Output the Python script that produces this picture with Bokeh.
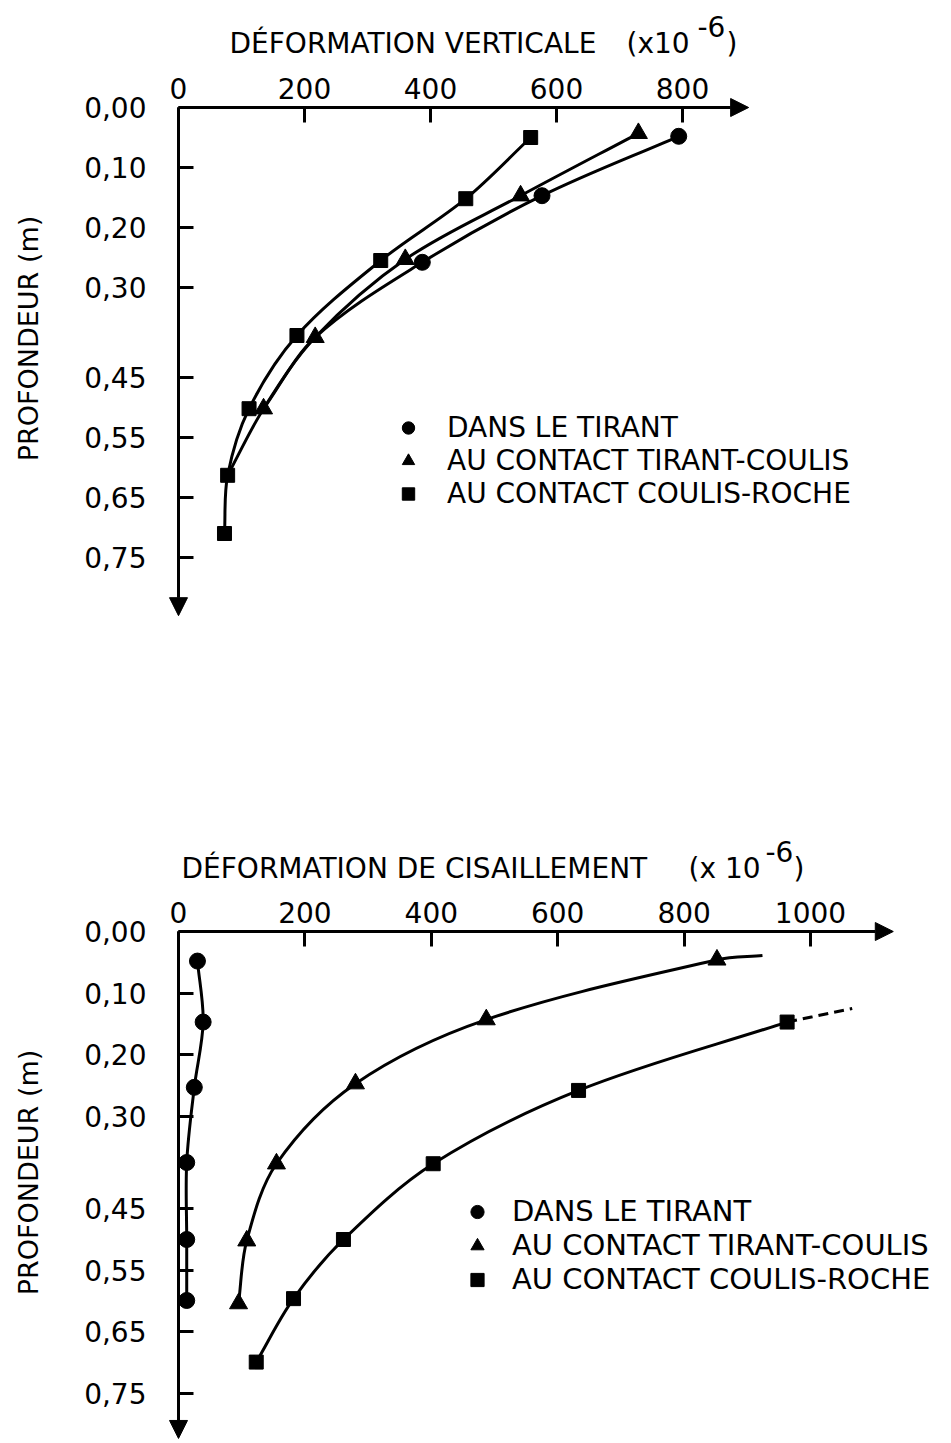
import math
from bokeh.plotting import figure
from bokeh.layouts import column
from bokeh.models import (Range1d, FixedTicker, CustomJSTickFormatter, Arrow, NormalHead,
                          Label, Legend, LegendItem, ColumnDataSource)
from bokeh.embed import file_html
from bokeh.resources import INLINE

FONT = "DejaVu Sans"

# ---------------- data ----------------
depth_ticks = [0.0, 0.10, 0.20, 0.30, 0.45, 0.55, 0.65, 0.75]

# Top chart: vertical strain (x1e-6) vs depth (m)
top_x_ticks = [0, 200, 400, 600, 800]
top_circle_x = [794, 577, 387]
top_circle_y = [0.048, 0.147, 0.258]
top_tri_x = [730, 543, 360, 217, 135]
top_tri_y = [0.043, 0.147, 0.253, 0.383, 0.502]
top_sq_x = [559, 456, 321, 188, 112, 78, 73]
top_sq_y = [0.050, 0.152, 0.255, 0.380, 0.502, 0.613, 0.710]

# Bottom chart: shear strain (x1e-6) vs depth (m)
bot_x_ticks = [0, 200, 400, 600, 800, 1000]
bot_circle_x = [30, 39, 25, 13, 13, 13]
bot_circle_y = [0.048, 0.147, 0.253, 0.375, 0.500, 0.599]
bot_tri_x = [852, 487, 280, 155, 108, 95]
bot_tri_y = [0.046, 0.143, 0.247, 0.377, 0.502, 0.604]
bot_sq_x = [963, 633, 403, 261, 182, 123]
bot_sq_y = [0.147, 0.258, 0.377, 0.500, 0.596, 0.699]
bot_tri_start_x, bot_tri_start_y = [924], [0.039]     # curve continues beyond first triangle
bot_sq_ext_x, bot_sq_ext_y = [1066], [0.125]          # dashed extrapolation

labels = ["DANS LE TIRANT", "AU CONTACT TIRANT-COULIS", "AU CONTACT COULIS-ROCHE"]

W = 950


def smooth(xs, ys, kx, ky):
    """Smooth curve through the points (chord-length Hermite), as cubic Bezier segments."""
    sx = [x * kx for x in xs]
    sy = [y * ky for y in ys]
    n = len(sx)
    d = [math.hypot(sx[i + 1] - sx[i], sy[i + 1] - sy[i]) for i in range(n - 1)]
    mx, my = [], []
    for k in range(n):
        if k == 0:
            mx.append((sx[1] - sx[0]) / d[0]); my.append((sy[1] - sy[0]) / d[0])
        elif k == n - 1:
            mx.append((sx[-1] - sx[-2]) / d[-1]); my.append((sy[-1] - sy[-2]) / d[-1])
        else:
            s = d[k - 1] + d[k]
            mx.append((sx[k + 1] - sx[k - 1]) / s); my.append((sy[k + 1] - sy[k - 1]) / s)
    out = dict(x0=[], y0=[], x1=[], y1=[], cx0=[], cy0=[], cx1=[], cy1=[])
    for i in range(n - 1):
        out["x0"].append(xs[i]); out["y0"].append(ys[i])
        out["x1"].append(xs[i + 1]); out["y1"].append(ys[i + 1])
        out["cx0"].append((sx[i] + mx[i] * d[i] / 3) / kx)
        out["cy0"].append((sy[i] + my[i] * d[i] / 3) / ky)
        out["cx1"].append((sx[i + 1] - mx[i + 1] * d[i] / 3) / kx)
        out["cy1"].append((sy[i + 1] - my[i + 1] * d[i] / 3) / ky)
    return ColumnDataSource(out)


def make_fig(height, xr, yr, xticks, xtip, ytip):
    p = figure(width=W, height=height, x_axis_location="above",
               x_range=Range1d(*xr), y_range=Range1d(*yr),
               output_backend="svg", toolbar_location=None,
               min_border=0, min_border_left=0, min_border_right=0,
               min_border_top=0, min_border_bottom=0)
    p.outline_line_color = None
    p.grid.visible = False
    p.background_fill_color = "white"
    p.border_fill_color = "white"
    for ax in (p.xaxis[0], p.yaxis[0]):
        ax.fixed_location = 0
        ax.axis_line_color = None
        ax.major_tick_in = 15
        ax.major_tick_out = 0
        ax.major_tick_line_width = 3
        ax.major_tick_line_color = "black"
        ax.minor_tick_line_color = None
        ax.major_label_text_font = FONT
        ax.major_label_text_font_size = "28px"
        ax.major_label_text_color = "black"
    p.xaxis[0].ticker = FixedTicker(ticks=xticks)
    p.xaxis[0].major_label_standoff = 9
    p.yaxis[0].ticker = FixedTicker(ticks=depth_ticks)
    p.yaxis[0].major_label_standoff = 32
    p.yaxis[0].formatter = CustomJSTickFormatter(code="return tick.toFixed(2).replace('.', ',');")
    p.add_layout(Arrow(end=NormalHead(size=18, fill_color="black", line_color="black"),
                       x_start=0, y_start=0, x_end=xtip, y_end=0,
                       line_width=3, line_color="black"))
    p.add_layout(Arrow(end=NormalHead(size=18, fill_color="black", line_color="black"),
                       x_start=0, y_start=0, x_end=0, y_end=ytip,
                       line_width=3, line_color="black"))
    return p


def curve(p, xs, ys, kx, ky, dash="solid"):
    p.bezier(x0="x0", y0="y0", x1="x1", y1="y1", cx0="cx0", cy0="cy0", cx1="cx1", cy1="cy1",
             source=smooth(xs, ys, kx, ky), line_color="black", line_width=3, line_dash=dash)


def markers(p, cx, cy, tx, ty, sx, sy):
    rc = p.scatter(cx, cy, marker="circle", size=16, color="black")
    rt = p.scatter(tx, ty, marker="triangle", size=18, color="black")
    rs = p.scatter(sx, sy, marker="square", size=14, color="black")
    return rc, rt, rs


def add_legend(p, rends, loc, standoff, gh, fsize):
    leg = Legend(items=[LegendItem(label=l, renderers=[r]) for l, r in zip(labels, rends)],
                 location=loc, label_text_font=FONT, label_text_font_size=fsize,
                 label_text_color="black", label_height=gh,
                 glyph_width=38, glyph_height=gh, label_standoff=standoff, spacing=0,
                 padding=0, margin=0, border_line_color=None, background_fill_alpha=0)
    p.add_layout(leg, "center")


def text(p, x, y, s, size="28px", angle=0.0, align="left", baseline="alphabetic"):
    p.add_layout(Label(x=x, y=y, text=s, text_font=FONT, text_font_size=size,
                       text_color="black", angle=angle, text_align=align,
                       text_baseline=baseline))


# ---------------- top chart (page px: origin at 178,107; 0.63 px/unit; 600 px/m) ----------------
TX, TY, TOX, TOY, H1 = 0.63, 600.0, 178, 107, 720
def t_pos(px, py):
    return (px - TOX) / TX, (py - TOY) / TY

p1 = make_fig(H1, ((0 - TOX) / TX, (W - TOX) / TX), ((H1 - TOY) / TY, (0 - TOY) / TY),
              top_x_ticks, 905, 0.847)
curve(p1, top_circle_x + top_tri_x[3:], top_circle_y + top_tri_y[3:], TX, TY)
curve(p1, top_tri_x + top_sq_x[5:6], top_tri_y + top_sq_y[5:6], TX, TY)
curve(p1, top_sq_x, top_sq_y, TX, TY)
r1 = markers(p1, top_circle_x, top_circle_y, top_tri_x, top_tri_y, top_sq_x, top_sq_y)
add_legend(p1, r1, (389, 210), 20, 31, "28px")
text(p1, *t_pos(229, 43), "DÉFORMATION VERTICALE")
text(p1, *t_pos(626, 43), "(x10")
text(p1, *t_pos(697, 26), "-6")
text(p1, *t_pos(726, 43), ")")
text(p1, *t_pos(28, 338), "PROFONDEUR (m)", size="27px", angle=math.pi / 2,
     align="center", baseline="middle")

# ---------------- bottom chart (page px: origin at 178,931; 0.632 px/unit; 616 px/m) ----------------
BX, BY, BOX, BOY, H2 = 0.632, 616.0, 178, 931 - H1, 722
def b_pos(px, py):
    return (px - BOX) / BX, (py - H1 - BOY) / BY

p2 = make_fig(H2, ((0 - BOX) / BX, (W - BOX) / BX), ((H2 - BOY) / BY, (0 - BOY) / BY),
              bot_x_ticks, 1131, 0.823)
curve(p2, bot_circle_x, bot_circle_y, BX, BY)
curve(p2, bot_tri_start_x + bot_tri_x, bot_tri_start_y + bot_tri_y, BX, BY)
curve(p2, bot_sq_x, bot_sq_y, BX, BY)
curve(p2, bot_sq_x[:1] + bot_sq_ext_x, bot_sq_y[:1] + bot_sq_ext_y, BX, BY, dash="10 6")
r2 = markers(p2, bot_circle_x, bot_circle_y, bot_tri_x, bot_tri_y, bot_sq_x, bot_sq_y)
add_legend(p2, r2, (458, 146), 16, 33, "29px")
text(p2, *b_pos(181, 868), "DÉFORMATION DE CISAILLEMENT")
text(p2, *b_pos(688, 868), "(x 10")
text(p2, *b_pos(765, 851), "-6")
text(p2, *b_pos(793, 868), ")")
text(p2, *b_pos(28, 1172), "PROFONDEUR (m)", size="27px", angle=math.pi / 2,
     align="center", baseline="middle")

layout = column(p1, p2, spacing=0)
open("out.html", "w").write(file_html(layout, INLINE))
